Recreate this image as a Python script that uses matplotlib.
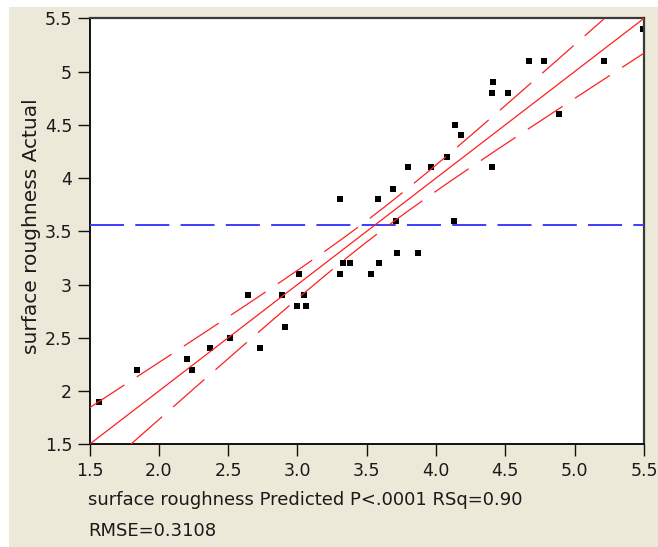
import numpy as np
import matplotlib
matplotlib.use("Agg")
import matplotlib.pyplot as plt
from matplotlib.patches import Rectangle

# Actual by Predicted data for surface roughness
predicted = [1.57, 1.84, 2.20, 2.24, 2.37, 2.51, 2.64, 2.73, 2.89, 2.91,
             3.00, 3.01, 3.05, 3.06, 3.31, 3.33, 3.31, 3.38, 3.53, 3.59,
             3.58, 3.72, 3.87, 3.69, 3.71, 3.80, 3.96, 4.08, 4.13, 4.14,
             4.18, 4.40, 4.40, 4.41, 4.52, 4.67, 4.78, 5.21, 4.89, 5.49]
actual = [1.9, 2.2, 2.3, 2.2, 2.4, 2.5, 2.9, 2.4, 2.9, 2.6,
          2.8, 3.1, 2.9, 2.8, 3.1, 3.2, 3.8, 3.2, 3.1, 3.2,
          3.8, 3.3, 3.3, 3.9, 3.6, 4.1, 4.1, 4.2, 3.6, 4.5,
          4.4, 4.1, 4.8, 4.9, 4.8, 5.1, 5.1, 5.1, 4.6, 5.4]

x_ticks = [1.5, 2.0, 2.5, 3.0, 3.5, 4.0, 4.5, 5.0, 5.5]
x_tick_labels = ["1.5", "2.0", "2.5", "3.0", "3.5", "4.0", "4.5", "5.0", "5.5"]
y_ticks = [1.5, 2.0, 2.5, 3.0, 3.5, 4.0, 4.5, 5.0, 5.5]
y_tick_labels = ["1.5", "2", "2.5", "3", "3.5", "4", "4.5", "5", "5.5"]

RMSE = 0.3108
RSQ = 0.90
P_LABEL = "P<.0001"
# critical values for the whole-model confidence curves (3 model terms)
T_CRIT = 2.028
F_CRIT = 2.866
MODEL_DF = 3

plt.rcParams["lines.scale_dashes"] = False
plt.rcParams["font.family"] = ["DejaVu Sans"]

W, H = 658, 547
BEIGE = "#ECE9D8"
TEXT = "#1a1a1a"
RED = "#ff1f1f"
BLUE = "#3c3cff"

fig = plt.figure(figsize=(W / 100, H / 100), dpi=100, facecolor="white")
fig.patches.append(Rectangle((9.3 / W, 0), 1, (H - 7.3) / H,
                             transform=fig.transFigure, facecolor=BEIGE,
                             edgecolor="none", zorder=-10))

left, right, top, bottom = 89.5, 644.0, 18.3, 444.3
ax = fig.add_axes([left / W, 1 - bottom / H, (right - left) / W, (bottom - top) / H])
ax.set_facecolor("white")

lo, hi = x_ticks[0], x_ticks[-1]
ax.set_xlim(lo, hi)
ax.set_ylim(lo, hi)

pred = np.asarray(predicted)
act = np.asarray(actual)
n = len(pred)
xbar = pred.mean()
sxx = np.sum((pred - xbar) ** 2)

# points
ax.plot(pred, act, linestyle="none", marker="s", markersize=3.8,
        color="black", markeredgewidth=0, zorder=2)

# mean of the response
ax.axhline(act.mean(), color=BLUE, lw=1.4, dashes=(24.5, 8.1), zorder=3)

# fitted line and confidence curves
xs = np.linspace(lo, hi, 2001)
ax.plot(xs, xs, color=RED, lw=0.9, zorder=4)
half = RMSE * np.sqrt(T_CRIT ** 2 / n + MODEL_DF * F_CRIT * (xs - xbar) ** 2 / sxx)
upper = xs + half
lower = xs - half
mu = upper <= hi
ml = lower >= lo
ax.plot(xs[mu], upper[mu], color=RED, lw=0.9, dashes=(30, 10.6), zorder=4)
ax.plot(xs[ml], lower[ml], color=RED, lw=0.9, dashes=(30, 10.6), zorder=4)

ax.set_xticks(x_ticks)
ax.set_xticklabels(x_tick_labels)
ax.set_yticks(y_ticks)
ax.set_yticklabels(y_tick_labels)
ax.tick_params(direction="out", length=8.5, width=1.0, color="#111111",
               labelsize=12.5, labelcolor=TEXT, pad=4)

for side in ("left", "bottom"):
    ax.spines[side].set_color("#111111")
    ax.spines[side].set_linewidth(1.4)
for side in ("top", "right"):
    ax.spines[side].set_color("#3a3a3a")
    ax.spines[side].set_linewidth(1.6)

fig.text(32 / W, 1 - 226 / H, "surface roughness Actual", rotation=90,
         ha="center", va="center", fontsize=14.5, color=TEXT)
fig.text(88 / W, 1 - 500 / H,
         f"surface roughness Predicted {P_LABEL} RSq={RSQ:.2f}",
         ha="left", va="center", fontsize=13, color=TEXT)
fig.text(88 / W, 1 - 531 / H, f"RMSE={RMSE:.4f}",
         ha="left", va="center", fontsize=13, color=TEXT)

fig.savefig("out.png", dpi=100, facecolor=fig.get_facecolor())
